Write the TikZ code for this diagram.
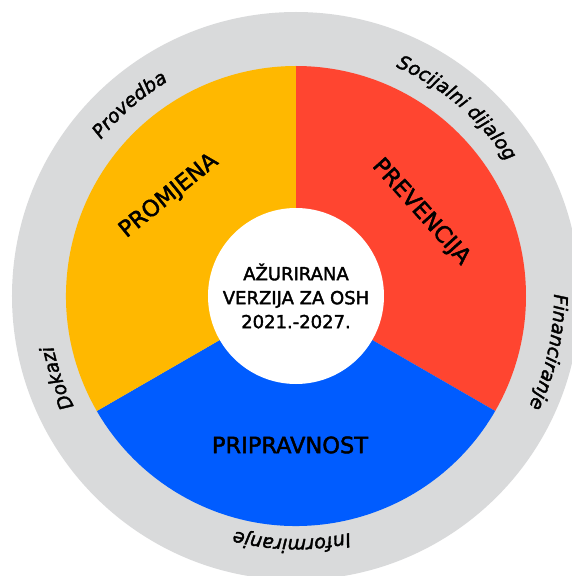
\documentclass[tikz,border=0pt]{standalone}
\usepackage{fontspec}
\setmainfont{DejaVu Sans}[FakeBold=2]
\usetikzlibrary{decorations.text}
\definecolor{ringgray}{HTML}{D9DADB}
\definecolor{promjenacol}{HTML}{FFB800}
\definecolor{prevencijacol}{HTML}{FF4530}
\definecolor{pripravcol}{HTML}{005CFF}

\begin{document}
\begin{tikzpicture}[line cap=round,line join=round,x=1pt,y=1pt,
  sector/.style={font=\fontsize{22.5}{24}\selectfont},
  ringlabel/.style={decorate,decoration={text along path,text align=center,
    text={|\fontsize{19}{20}\selectfont\itshape|#1}}}]
\useasboundingbox (-296,-280) rectangle (276,296);
\clip (-296,-280) rectangle (276,296);
\fill[ringgray] (0,0) circle (284);
\fill[prevencijacol] (0,0) -- (90:230) arc[start angle=90,end angle=-30,radius=230] -- cycle;
\fill[pripravcol] (0,0) -- (-30:230) arc[start angle=-30,end angle=-150,radius=230] -- cycle;
\fill[promjenacol] (0,0) -- (210:230) arc[start angle=210,end angle=90,radius=230] -- cycle;
\fill[white] (0,0) circle (88);
\node[align=center,font=\fontsize{18}{24}\selectfont] (osh) at (0,0) {AŽURIRANA\\VERZIJA ZA OSH\\2021.-2027.};
\node[sector,rotate=39] (promjena) at (-127,100) {PROMJENA};
\node[sector,rotate=-48] (prevencija) at (125,84) {PREVENCIJA};
\node[sector] (pripravnost) at (-6,-149) {PRIPRAVNOST};
\path[ringlabel=Provedba] (161:250) arc[start angle=161,end angle=101,radius=250];
\path[ringlabel=Socijalni dijalog] (79.5:250) arc[start angle=79.5,end angle=19.5,radius=250];
\path[ringlabel=Financiranje] (17.5:258) arc[start angle=17.5,end angle=-42.5,radius=258];
\path[ringlabel=Informiranje] (-61:243) arc[start angle=-61,end angle=-121,radius=243];
\path[ringlabel=Dokazi] (229:248) arc[start angle=229,end angle=169,radius=248];
\end{tikzpicture}
\end{document}
